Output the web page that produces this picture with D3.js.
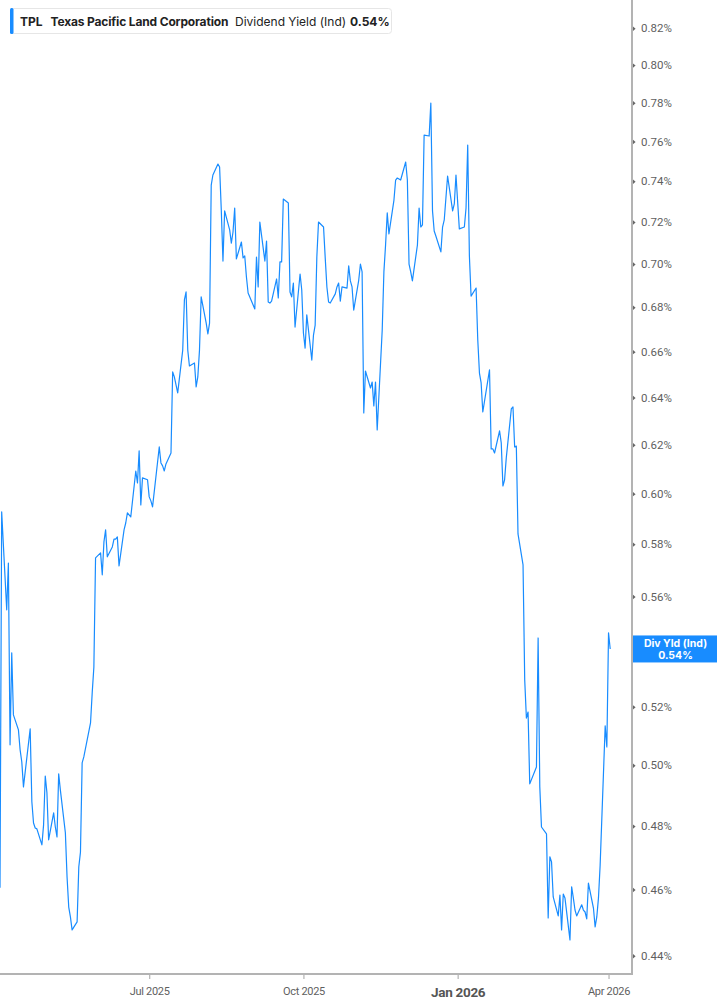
<!DOCTYPE html>
<html>
<head>
<meta charset="utf-8">
<script src="https://cdn.jsdelivr.net/npm/d3@7"></script>
<style>
  body { margin: 0; background: #fff; }
  svg { display: block; font-family: Inter, "Noto Sans", sans-serif; }
</style>
</head>
<body>
<svg id="chart"></svg>
<script>
// trading days of the window (weekdays minus NYSE holidays)
const firstDay = "2025-04-03";
const lastDay = "2026-04-02";
const marketHolidays = [
  "2025-04-18", "2025-05-26", "2025-06-19", "2025-07-04", "2025-09-01",
  "2025-11-27", "2025-12-25", "2026-01-01", "2026-01-19", "2026-02-16"
];

// dividend yield (ind), in percent, one per trading day
const yieldValues = [
  0.4605, 0.5927, 0.5550, 0.5727, 0.5069, 0.5392, 0.5172, 0.5120, 0.5052, 0.5011,
  0.4928, 0.5124, 0.4879, 0.4810, 0.4794, 0.4791, 0.4740, 0.4804, 0.4964, 0.4908,
  0.4756, 0.4843, 0.4797, 0.4765, 0.4971, 0.4918, 0.4778, 0.4639, 0.4546, 0.4516,
  0.4477, 0.4501, 0.4670, 0.4717, 0.5008, 0.5028, 0.5144, 0.5249, 0.5341, 0.5747,
  0.5766, 0.5682, 0.5809, 0.5856, 0.5751, 0.5789, 0.5820, 0.5820, 0.5828, 0.5716,
  0.5856, 0.5883, 0.5923, 0.5907, 0.6092, 0.6043, 0.6175, 0.5955, 0.6064, 0.6056,
  0.5987, 0.5971, 0.5947, 0.6191, 0.6125, 0.6113, 0.6092, 0.6121, 0.6166, 0.6511,
  0.6489, 0.6454, 0.6420, 0.6607, 0.6833, 0.6870, 0.6607, 0.6537, 0.6550, 0.6446,
  0.6489, 0.6607, 0.6847, 0.6728, 0.6679, 0.6728, 0.7381, 0.7431, 0.7486, 0.7471,
  0.7258, 0.7014, 0.7254, 0.7162, 0.7099, 0.7152, 0.7268, 0.7024, 0.7104, 0.7029,
  0.7038, 0.6939, 0.6865, 0.6792, 0.7033, 0.6893, 0.7200, 0.7014, 0.7109, 0.6824,
  0.6819, 0.6828, 0.6930, 0.6842, 0.7010, 0.7010, 0.7312, 0.7293, 0.6870, 0.6847,
  0.6911, 0.6710, 0.6953, 0.6879, 0.6683, 0.6616, 0.6765, 0.6563, 0.6674, 0.6719,
  0.7033, 0.7200, 0.7176, 0.7029, 0.6893, 0.6824, 0.6819, 0.6861, 0.6893, 0.6911,
  0.6828, 0.6893, 0.6888, 0.6991, 0.6921, 0.6893, 0.6787, 0.6925, 0.7000, 0.6963,
  0.6334, 0.6515, 0.6441, 0.6467, 0.6364, 0.6467, 0.6262, 0.6697, 0.6963, 0.7090,
  0.7244, 0.7143, 0.7307, 0.7406, 0.7416, 0.7406, 0.7496, 0.7406, 0.7000, 0.6963,
  0.6921, 0.7090, 0.7268, 0.7176, 0.7186, 0.7633, 0.7628, 0.7799, 0.7254, 0.7157,
  0.7133, 0.7057, 0.7176, 0.7210, 0.7426, 0.7254, 0.7288, 0.7431, 0.7167, 0.7176,
  0.7268, 0.7582, 0.7038, 0.6851, 0.6888, 0.6652, 0.6506, 0.6463, 0.6338, 0.6520,
  0.6183, 0.6183, 0.6166, 0.6258, 0.6208, 0.6031, 0.6056, 0.6146, 0.6351, 0.6360,
  0.6191, 0.6195, 0.5840, 0.5720, 0.5295, 0.5161, 0.5182, 0.4938, 0.4994, 0.5446,
  0.4928, 0.4797, 0.4775, 0.4513, 0.4702, 0.4686, 0.4577, 0.4519, 0.4583, 0.4477,
  0.4586, 0.4574, 0.4447, 0.4608, 0.4574, 0.4537, 0.4519, 0.4553, 0.4537, 0.4531,
  0.4510, 0.4620, 0.4543, 0.4486, 0.4516, 0.4574, 0.4676, 0.5134, 0.5062, 0.5465,
  0.5406
];

const yTicks = [0.44, 0.46, 0.48, 0.50, 0.52, 0.54, 0.56, 0.58, 0.60, 0.62,
                0.64, 0.66, 0.68, 0.70, 0.72, 0.74, 0.76, 0.78, 0.80, 0.82];
const xTicks = ["2025-07-01", "2025-10-01", "2026-01-01", "2026-04-01"];
const xTickLabels = ["Jul 2025", "Oct 2025", "Jan 2026", "Apr 2026"];

const ticker = "TPL";
const company = "Texas Pacific Land Corporation";
const metric = "Dividend Yield (Ind)";
const endLabel = "Div Yld (Ind)";

const width = 717, height = 1005;
const plotRight = 632, plotBottom = 974;
const blue = "#188cff";
const axisGrey = "#b3b3b3";

const parse = d3.utcParse("%Y-%m-%d");
const fmtDay = d3.utcFormat("%Y-%m-%d");
const pct = v => d3.format(".2f")(v) + "%";

const days = d3.utcDay.range(parse(firstDay), d3.utcDay.offset(parse(lastDay), 1))
  .filter(d => d.getUTCDay() % 6 !== 0 && !marketHolidays.includes(fmtDay(d)));
const data = days.slice(0, yieldValues.length).map((d, i) => ({date: d, value: yieldValues[i]}));
const last = data[data.length - 1];

const svg = d3.select("#chart").attr("width", width).attr("height", height);

const x = d3.scaleUtc()
  .domain([parse(firstDay), d3.utcDay.offset(parse(lastDay), 13)])
  .range([0, plotRight]);
const y = d3.scaleLog()
  .domain([0.44, 0.82])
  .range([955.7, 28.3]);
const flagY = y(last.value);

svg.append("clipPath").attr("id", "plot-clip")
  .append("rect").attr("x", 0).attr("y", 0).attr("width", plotRight).attr("height", plotBottom);

// line
svg.append("path")
  .datum(data)
  .attr("clip-path", "url(#plot-clip)")
  .attr("fill", "none")
  .attr("stroke", blue)
  .attr("stroke-width", 1.2)
  .attr("stroke-linejoin", "round")
  .attr("d", d3.line().x(d => x(d.date)).y(d => y(d.value)));

// x axis
const xAxis = svg.append("g")
  .attr("transform", `translate(0,${plotBottom})`)
  .call(d3.axisBottom(x)
    .tickValues(xTicks.map(parse))
    .tickFormat((d, i) => xTickLabels[i])
    .tickSize(5)
    .tickSizeOuter(0)
    .tickPadding(8));
xAxis.select(".domain").remove();
xAxis.selectAll(".tick line").attr("stroke", axisGrey).attr("stroke-width", 1.2);
xAxis.selectAll(".tick text")
  .attr("fill", "#5f5f5f")
  .style("font-family", "Roboto, sans-serif")
  .style("font-size", "11px")
  .style("letter-spacing", "-0.3px");
xAxis.selectAll(".tick text").filter((d, i) => xTickLabels[i] === "Jan 2026")
  .attr("fill", "#555")
  .style("font-size", "13.5px")
  .style("font-weight", "700");

// y axis
const yAxis = svg.append("g")
  .attr("transform", `translate(${plotRight},0)`)
  .call(d3.axisRight(y)
    .tickValues(yTicks)
    .tickFormat(pct)
    .tickSize(0)
    .tickPadding(9));
yAxis.select(".domain").remove();
yAxis.selectAll(".tick").append("path")
  .attr("d", "M1,-2.2L3.6,0L1,2.2Z")
  .attr("fill", "#666");
yAxis.selectAll(".tick text")
  .attr("fill", "#5f5f5f")
  .style("font-family", "Roboto, sans-serif")
  .style("font-size", "11.5px");
// the tick label sitting under the end-value flag is covered by it
yAxis.selectAll(".tick").filter(d => Math.abs(y(d) - flagY) < 14).select("text").remove();

// frame lines
svg.append("line")
  .attr("x1", 0).attr("x2", plotRight + 1)
  .attr("y1", plotBottom).attr("y2", plotBottom)
  .attr("stroke", axisGrey).attr("stroke-width", 2);
svg.append("line")
  .attr("x1", plotRight).attr("x2", plotRight)
  .attr("y1", 0).attr("y2", plotBottom + 1)
  .attr("stroke", axisGrey).attr("stroke-width", 2);

// end value flag
const flag = svg.append("g");
flag.append("rect")
  .attr("x", plotRight + 1).attr("y", flagY - 13.5)
  .attr("width", width - plotRight - 1).attr("height", 27)
  .attr("fill", blue);
flag.append("text")
  .attr("x", (plotRight + width) / 2 + 1).attr("y", flagY - 2)
  .attr("text-anchor", "middle")
  .attr("fill", "#fff")
  .style("font-size", "10.5px").style("font-weight", "700")
  .text(endLabel);
flag.append("text")
  .attr("x", (plotRight + width) / 2 + 1).attr("y", flagY + 10)
  .attr("text-anchor", "middle")
  .attr("fill", "#fff")
  .style("font-size", "10.5px").style("font-weight", "700")
  .text(pct(last.value));

// legend
const legend = svg.append("g");
legend.append("rect")
  .attr("x", 10.5).attr("y", 8.5).attr("width", 381).attr("height", 25).attr("rx", 3)
  .attr("fill", "#fff").attr("stroke", "#e6e6e6");
legend.append("rect")
  .attr("x", 10).attr("y", 8).attr("width", 3.5).attr("height", 26).attr("rx", 1.5)
  .attr("fill", blue);
const legendItems = [
  {text: ticker, x: 20, weight: 700, spacing: 0},
  {text: company, x: 50.5, weight: 700, spacing: -0.15},
  {text: metric, x: 235, weight: 400, spacing: 0},
  {text: pct(last.value), x: 350, weight: 700, spacing: 0}
];
legend.selectAll("text.item")
  .data(legendItems)
  .join("text")
  .attr("class", "item")
  .attr("x", d => d.x).attr("y", 25.5)
  .attr("fill", "#222")
  .style("font-size", "12px")
  .style("font-weight", d => d.weight)
  .style("letter-spacing", d => d.spacing + "px")
  .text(d => d.text);
</script>
</body>
</html>
